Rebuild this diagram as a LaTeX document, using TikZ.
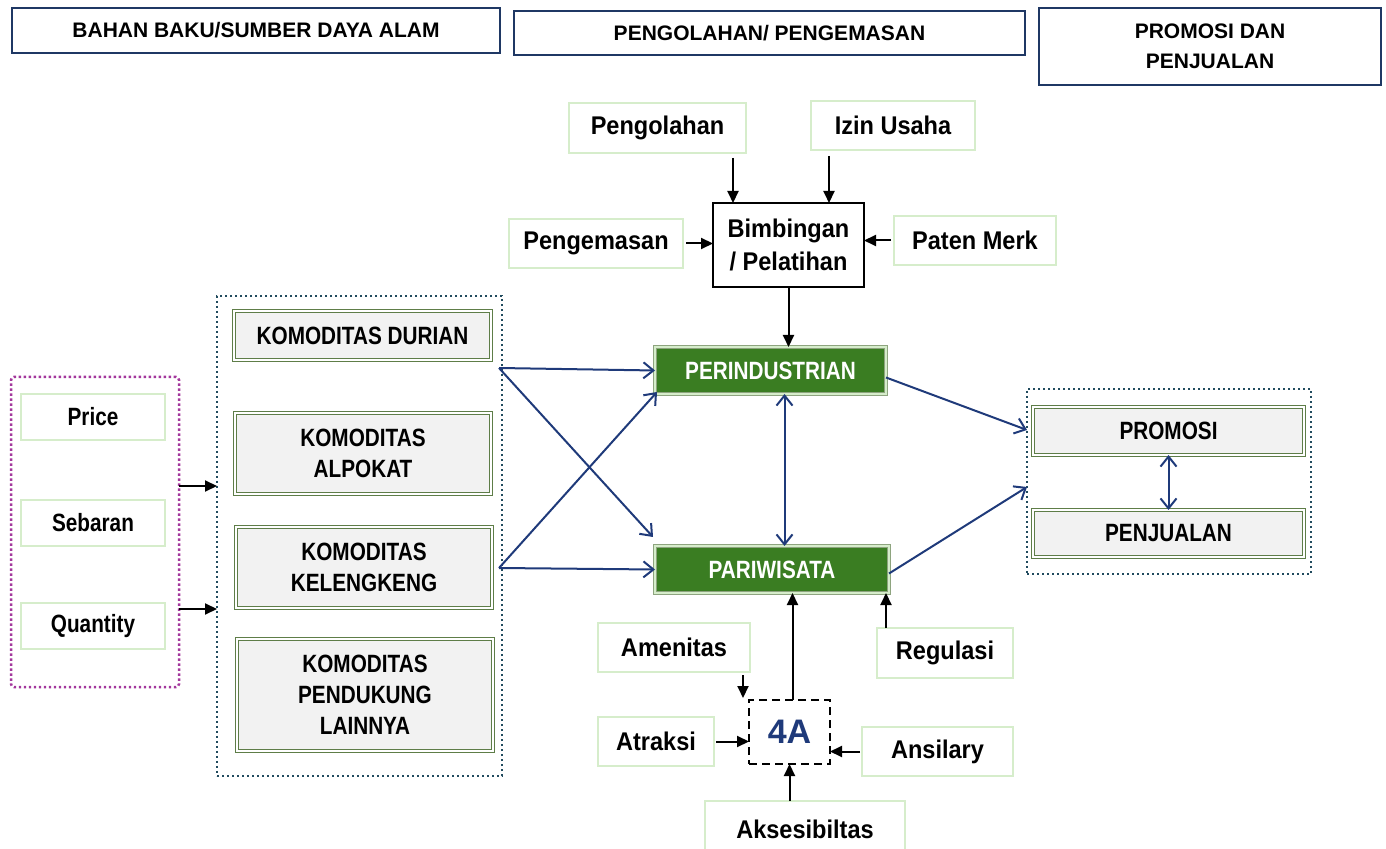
\documentclass[tikz,border=0pt]{standalone}
\usepackage{fontspec}
\setmainfont{Liberation Sans}
\newfontfamily\narrowsans[FakeStretch=0.83]{Liberation Sans}
\newfontfamily\semisans[FakeStretch=0.92]{Liberation Sans}
\usetikzlibrary{arrows.meta,calc}

\definecolor{navyline}{HTML}{1F3864}
\definecolor{linkblue}{HTML}{1F3A7A}
\definecolor{paleg}{HTML}{D6EDCB}
\definecolor{komgreen}{HTML}{5E7D48}
\definecolor{komfill}{HTML}{F2F2F2}
\definecolor{darkfill}{HTML}{3A7D22}
\definecolor{dotnavy}{HTML}{214B5E}
\definecolor{dotmag}{HTML}{A3379C}
\definecolor{fourA}{HTML}{1F3A7A}

\newcommand\lblfont{\narrowsans\bfseries\fontsize{12.5}{15.5}\selectfont}
\newcommand\widefont{\semisans\bfseries\fontsize{12.8}{16.7}\selectfont}
\newcommand\hdrfont{\bfseries\fontsize{10.5}{15}\selectfont}

\begin{document}
\begin{tikzpicture}[x=0.5pt,y=-0.5pt,
  every node/.style={inner sep=0pt, outer sep=0pt, align=center},
  % a box given by its left, top, right and bottom edges
  rect/.style args={#1/#2/#3/#4}{minimum width={(#3-#1)*0.5pt},
      minimum height={(#4-#2)*0.5pt}, at={({(#1+#3)/2},{(#2+#4)/2})}},
  hdr/.style={draw=navyline, line width=1pt, font=\hdrfont},
  pale/.style={draw=paleg, line width=1pt, fill=white, font=\lblfont},
  palew/.style={pale, font=\widefont},
  kom/.style={draw=komgreen, line width=0.5pt, double=white, double distance=0.8pt,
              fill=komfill, font=\lblfont},
  dark/.style={draw=komgreen!70, line width=0.5pt, double=paleg, double distance=0.8pt,
               fill=darkfill, text=white, font=\lblfont},
  plainbox/.style={draw=black, line width=1pt, fill=white, font=\widefont},
  dotbox/.style={draw=dotnavy, line width=1.25pt, dash pattern=on 1.2pt off 1.3pt},
  magbox/.style={draw=dotmag, line width=1.25pt, dash pattern=on 1.2pt off 1.3pt,
                 rounded corners=1.5pt},
  lnk/.style={draw=linkblue, line width=1pt, -{Straight Barb[length=5pt,width=8pt]}},
  lnkboth/.style={draw=linkblue, line width=1pt,
                  {Straight Barb[length=5pt,width=8pt]}-{Straight Barb[length=5pt,width=8pt]}},
  blk/.style={draw=black, line width=1pt, -{Triangle[length=6pt,width=5.5pt]}}]

\useasboundingbox (0,0) rectangle (1386,849);

% column headers
\node[hdr, rect=12/8/500/53] (h1) {BAHAN BAKU/SUMBER DAYA ALAM};
\node[hdr, rect=514/11/1025/55] (h2) {PENGOLAHAN/ PENGEMASAN};
\node[hdr, rect=1039/8/1381/85] (h3) {PROMOSI DAN\\PENJUALAN};

% groups
\node[magbox, rect=11/377/179/687] (mbox) {};
\node[dotbox, rect=217/296/502/776] (kbox) {};
\node[dotbox, rect=1027/389/1311/574] (rbox) {};

% market factors
\node[pale, rect=21/394/165/440] (price) {Price};
\node[pale, rect=21/500/165/546] (seb) {Sebaran};
\node[pale, rect=21/603/165/649] (qty) {Quantity};

% commodities
\node[kom, rect=234/311/491/360] (kd) {KOMODITAS DURIAN};
\node[kom, rect=235/413/491/494] (ka) {KOMODITAS\\ALPOKAT};
\node[kom, rect=236/527/492/608] (kk) {KOMODITAS\\KELENGKENG};
\node[kom, rect=237/639/493/751] (kp) {KOMODITAS\\PENDUKUNG\\LAINNYA};

% guidance inputs
\node[palew, rect=569/103/746/153] (peng) {Pengolahan};
\node[palew, rect=811/101/975/150] (izin) {Izin Usaha};
\node[palew, rect=509/219/683/268] (pengm) {Pengemasan};
\node[palew, rect=894/216/1056/265] (paten) {Paten Merk};
\node[plainbox, rect=713/203/864/287] (bim) {Bimbingan\\/ Pelatihan};

% sectors
\node[dark, rect=655/347/886/394] (perin) {PERINDUSTRIAN};
\node[dark, rect=655/546/889/593] (pari) {PARIWISATA};

% promotion and sales
\node[kom, rect=1033/407/1304/455] (prom) {PROMOSI};
\node[kom, rect=1033/510/1304/557] (penj) {PENJUALAN};

% tourism components
\node[draw=black, line width=1.2pt, dash pattern=on 4pt off 2.5pt, fill=white,
      rect=749/700/830/764, text=fourA,
      font=\bfseries\fontsize{17}{20}\selectfont] (fa) {4A};
\node[palew, rect=598/623/750/672] (amen) {Amenitas};
\node[palew, rect=598/717/714/766] (atr) {Atraksi};
\node[palew, rect=862/727/1013/776] (ans) {Ansilary};
\node[palew, rect=705/801/905/857] (aks) {Aksesibiltas};
\node[palew, rect=877/628/1013/678] (reg) {Regulasi};

% market factors into commodities
\coordinate (m1) at ($(mbox.north east)+(0,109)$);
\coordinate (m2) at ($(mbox.north east)+(0,232)$);
\draw[blk] (m1) -- (m1 -| kbox.west);
\draw[blk] (m2) -- (m2 -| kbox.west);

% guidance
\draw[blk] ($(peng.south -| bim.north west)+(20,5)$) -- ($(bim.north west)+(20,0)$);
\draw[blk] ($(izin.south -| bim.north west)+(116,6)$) -- ($(bim.north west)+(116,0)$);
\draw[blk] ([xshift=1.5pt]pengm.east) -- (pengm.east -| bim.west);
\draw[blk] ([xshift=-1.5pt]paten.west) -- (paten.west -| bim.east);
\draw[blk] (bim.south) -- (bim.south |- perin.north);

% commodities into sectors
\coordinate (d1) at ($(kbox.north east)+(-3,72)$);
\coordinate (d2) at ($(kbox.north east)+(-3,272)$);
\draw[lnk] (d1) -- (perin.west);
\draw[lnk] (d1) -- ($(pari.north west)+(-2,-9)$);
\draw[lnk] (d2) -- ($(perin.south west)+(2,-2)$);
\draw[lnk] (d2) -- (pari.west);

% sectors
\coordinate (s1) at ($(perin.south)+(14,0)$);
\draw[lnkboth] (s1) -- (s1 |- pari.north);
\draw[lnk] ($(perin.east)+(0,7)$) -- ($(rbox.north west)+(0,41)$);
\draw[lnk] ($(pari.east)+(0,4)$) -- ($(rbox.north west)+(0,98)$);
\draw[lnkboth] (prom.south) -- (penj.north);

% tourism components
\coordinate (t1) at ($(fa.north)+(3,0)$);
\draw[blk] (t1) -- (t1 |- pari.south);
\coordinate (r1) at ($(reg.north west)+(9,0)$);
\draw[blk] (r1) -- (r1 |- pari.south);
\draw[blk] ($(amen.south east)+(-7,3)$) -- ($(fa.north west)+(-6,-2)$);
\draw[blk] ([xshift=1pt]atr.east) -- (atr.east -| fa.west);
\draw[blk] ([xshift=-1pt]ans.west) -- (ans.west -| fa.east);
\draw[blk] (fa.south |- aks.north) -- (fa.south);

\end{tikzpicture}
\end{document}
